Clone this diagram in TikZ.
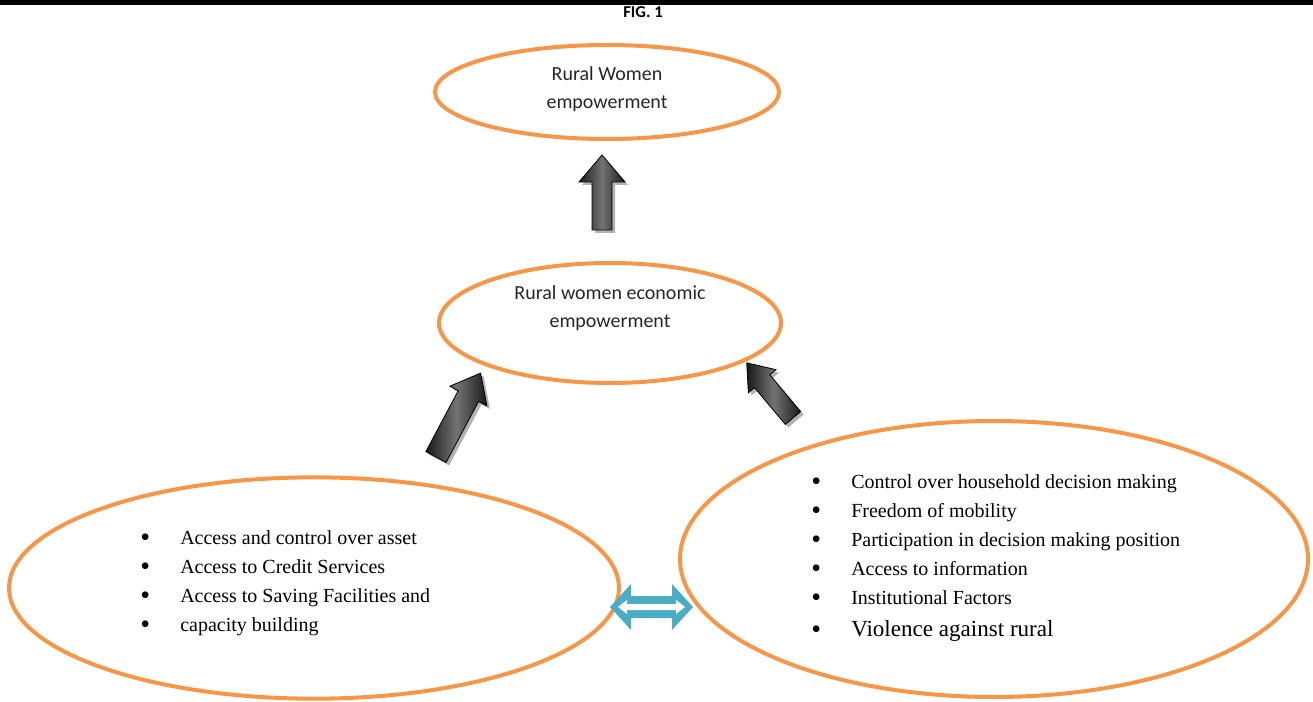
\documentclass[tikz,border=0pt]{standalone}
\usepackage{fontspec}
\setmainfont{Liberation Serif}
\newfontfamily\calibri{Carlito}
\usetikzlibrary{positioning,shapes.geometric}

\definecolor{accentOrange}{HTML}{F79646}
\definecolor{accentBlue}{HTML}{4BACC6}

% outline of an upward block arrow: length, half shaft, half head, head length
\def\arrowPath#1#2#3#4{(-#2,0) -- (-#2,{-(#1-#4)}) -- (-#3,{-(#1-#4)}) -- (0,-#1)
  -- (#3,{-(#1-#4)}) -- (#2,{-(#1-#4)}) -- (#2,0) -- cycle}

% shaded block arrow with a soft drop shadow: tail, rotation, then the four sizes
\newcommand{\blockArrow}[6]{%
  \path[fill=black!30, shift={#1}, shift={(3,3)}, rotate=#2] \arrowPath{#3}{#4}{#5}{#6};
  \path[draw=black, line width=0.6pt, left color=black!90, right color=black!90,
        middle color=black!55, shift={#1}, rotate=#2] \arrowPath{#3}{#4}{#5}{#6};
}

\begin{document}
\begin{tikzpicture}[x=0.75pt, y=-0.75pt]

    %
    % Styles for the ellipses and their texts
    %
    \tikzstyle{bubble} = [draw=accentOrange, line width=3pt, ellipse, inner sep=0pt]
    \tikzstyle{caption} = [align=center, inner sep=0pt, text=black!85,
                           font={\calibri\fontsize{15}{21}\selectfont}]
    \tikzstyle{factors} = [anchor=base west, inner sep=0pt,
                           font={\fontsize{15}{21.75}\selectfont}]
    \newcommand{\factor}{\makebox[30pt][l]{\raisebox{-1.6pt}{\fontsize{21}{21}\selectfont\textbullet}}}

    \useasboundingbox (0,0) rectangle (1313,702);
    \fill[black] (0,0) rectangle (1313,5);
    \node[font={\calibri\bfseries\fontsize{12.5}{15}\selectfont}] (figTitle) at (643,12) {FIG. 1};

    %
    % Position ellipses
    %
    \node[bubble, minimum width=258pt, minimum height=70.5pt] (empower) at (607,92) {};
    \node[bubble, minimum width=256.5pt, minimum height=90pt] (economic) at (610,323) {};
    \node[bubble, minimum width=457.5pt, minimum height=166pt] (access) at (314,588) {};
    \node[bubble, minimum width=471pt, minimum height=207pt] (social) at (994,559) {};

    \node[caption] (empowerText) at (607,89) {Rural Women\\empowerment};
    \node[caption] (economicText) at (610,308) {Rural women economic\\empowerment};

    \node[factors] (accessList) at (140,544) {%
      \begin{tabular}[t]{@{}l@{}}
        \factor Access and control over asset\\
        \factor Access to Credit Services\\
        \factor Access to Saving Facilities and\\
        \factor capacity building
      \end{tabular}};
    \node[factors] (socialList) at (811,488) {%
      \begin{tabular}[t]{@{}l@{}}
        \factor Control over household decision making\\
        \factor Freedom of mobility\\
        \factor Participation in decision making position\\
        \factor Access to information\\
        \factor Institutional Factors\\[2.25pt]
        \factor{\fontsize{17.3}{21}\selectfont Violence against rural}
      \end{tabular}};

    %
    % Block arrows between the ellipses
    %
    \blockArrow{(602,230)}{0}{75}{10}{23}{27}
    \blockArrow{(436,457)}{-28}{95}{11.5}{21}{26}
    \blockArrow{(793,418)}{40}{72}{10}{18}{24}

    % two-way link between the lower ellipses
    \coordinate (link) at (651,607);
    \fill[accentBlue, shift={(link)}] (-41,0) -- (-20,-23) -- (-20,-11) -- (21,-11) -- (21,-23)
      -- (42,0) -- (21,23) -- (21,11) -- (-20,11) -- (-20,23) -- cycle;
    \fill[white, shift={(link)}] (-33,0) -- (-24,-7) -- (-24,-3) -- (25,-3) -- (25,-7)
      -- (34,0) -- (25,7) -- (25,3) -- (-24,3) -- (-24,7) -- cycle;
  \end{tikzpicture}
\end{document}
